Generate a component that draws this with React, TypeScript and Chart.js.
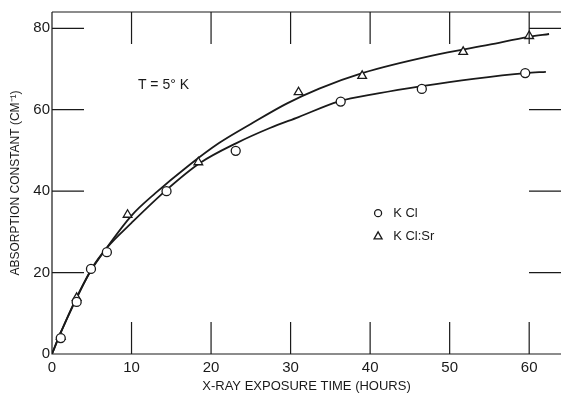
import React, { useEffect, useRef } from "react";
import { Chart, registerables } from "chart.js";

Chart.register(...registerables);

// Measured points
const kclX = [1.1, 3.1, 4.9, 6.9, 14.4, 23.1, 36.3, 46.5, 59.5];
const kclY = [3.9, 12.8, 20.9, 25.0, 40.0, 49.9, 62.0, 65.1, 69.0];
const kclSrX = [1.1, 3.1, 9.5, 18.4, 31.0, 39.0, 51.7, 60.0];
const kclSrY = [4.2, 13.8, 34.2, 47.1, 64.3, 68.3, 74.2, 78.1];

// Hand-drawn smooth curves
const kclFitX = [0, 1, 3, 5, 7, 10, 14.4, 18.6, 23.2, 27.4, 31, 36, 41, 46.5, 53, 59.6, 62.1];
const kclFitY = [0, 4.8, 13.3, 21, 26.3, 32.2, 40.3, 46.9, 51.8, 55.5, 58.2, 62, 64, 65.8, 67.6, 69, 69.3];
const kclSrFitX = [0, 1, 3, 5, 7, 10, 13, 17, 21, 25, 29.5, 33.6, 39, 47.8, 55, 60, 62.5];
const kclSrFitY = [0, 4.8, 13.5, 20.8, 26.4, 34, 39.5, 46, 51.8, 56.5, 61.5, 65.2, 69, 73.3, 76, 77.9, 78.6];

const xTicks = [0, 10, 20, 30, 40, 50, 60];
const yTicks = [0, 20, 40, 60, 80];

const seriesLabels = ["K Cl", "K Cl:Sr"];
const xTitle = "X-RAY EXPOSURE TIME (HOURS)";
const yTitle = "ABSORPTION CONSTANT (CM\u207B\u00B9)";
const noteText = "T = 5\u00B0 K";

const FONT = "'Liberation Sans', Arial, Helvetica, sans-serif";
const INK = "#1a1a1a";
const TICK = 32;

const toPts = (xs: number[], ys: number[]) => xs.map((x, i) => ({ x, y: ys[i] }));

const framePlugin = {
  id: "frameTicks",
  afterDraw(chart: any) {
    const { ctx, chartArea: a, scales } = chart;
    const x = scales.x;
    const y = scales.y;
    ctx.save();
    ctx.strokeStyle = INK;
    ctx.lineWidth = 1.2;
    ctx.beginPath();
    ctx.moveTo(a.left, a.top);
    ctx.lineTo(a.right, a.top);
    ctx.moveTo(a.left, a.top);
    ctx.lineTo(a.left, a.bottom);
    ctx.lineTo(a.right, a.bottom);
    for (const v of xTicks) {
      if (v === 0) continue;
      const px = x.getPixelForValue(v);
      ctx.moveTo(px, a.bottom);
      ctx.lineTo(px, a.bottom - TICK);
      ctx.moveTo(px, a.top);
      ctx.lineTo(px, a.top + TICK);
    }
    for (const v of yTicks) {
      if (v === 0) continue;
      const py = y.getPixelForValue(v);
      ctx.moveTo(a.left, py);
      ctx.lineTo(a.left + TICK, py);
      ctx.moveTo(a.right, py);
      ctx.lineTo(a.right - TICK, py);
    }
    ctx.stroke();

    // note text
    ctx.fillStyle = INK;
    ctx.font = `14px ${FONT}`;
    ctx.textBaseline = "middle";
    ctx.textAlign = "left";
    ctx.fillText(noteText, x.getPixelForValue(10.8), y.getPixelForValue(66.1));

    // legend
    const mx = x.getPixelForValue(41.0);
    const tx = x.getPixelForValue(42.9);
    const y1 = y.getPixelForValue(34.6);
    const y2 = y.getPixelForValue(29.0);
    ctx.lineWidth = 1.3;
    ctx.beginPath();
    ctx.arc(mx, y1, 3.5, 0, Math.PI * 2);
    ctx.stroke();
    ctx.beginPath();
    ctx.moveTo(mx, y2 - 4);
    ctx.lineTo(mx + 4, y2 + 3);
    ctx.lineTo(mx - 4, y2 + 3);
    ctx.closePath();
    ctx.stroke();
    ctx.font = `13px ${FONT}`;
    ctx.fillText(seriesLabels[0], tx, y1);
    ctx.fillText(seriesLabels[1], tx, y2);
    ctx.restore();
  },
};

export default function App() {
  const ref = useRef<HTMLCanvasElement>(null);
  useEffect(() => {
    document.body.style.margin = "0";
    const canvas = ref.current;
    if (!canvas) return;
    const chart = new Chart(canvas, {
      type: "scatter",
      data: {
        datasets: [
          {
            label: seriesLabels[0],
            data: toPts(kclX, kclY),
            pointStyle: "circle",
            pointRadius: 4.5,
            backgroundColor: "#ffffff",
            borderColor: INK,
            borderWidth: 1.3,
            order: 0,
          },
          {
            label: seriesLabels[1],
            data: toPts(kclSrX, kclSrY),
            pointStyle: "triangle",
            pointRadius: 5,
            backgroundColor: "#ffffff",
            borderColor: INK,
            borderWidth: 1.3,
            order: 0,
          },
          {
            label: seriesLabels[0] + " fit",
            data: toPts(kclFitX, kclFitY),
            showLine: true,
            pointRadius: 0,
            borderColor: INK,
            borderWidth: 1.8,
            cubicInterpolationMode: "monotone",
            order: 1,
          },
          {
            label: seriesLabels[1] + " fit",
            data: toPts(kclSrFitX, kclSrFitY),
            showLine: true,
            pointRadius: 0,
            borderColor: INK,
            borderWidth: 1.8,
            cubicInterpolationMode: "monotone",
            order: 1,
          },
        ],
      },
      options: {
        responsive: false,
        animation: false,
        layout: { autoPadding: false, padding: { top: 12, right: 0, left: 0, bottom: 0 } },
        plugins: { legend: { display: false }, tooltip: { enabled: false } },
        scales: {
          x: {
            type: "linear",
            min: 0,
            max: 64,
            grid: { display: false, drawTicks: false },
            border: { display: false },
            afterBuildTicks: (s: any) => {
              s.ticks = xTicks.map((v) => ({ value: v }));
            },
            afterFit: (s: any) => {
              s.height = 40;
              s.paddingLeft = 0;
              s.paddingRight = 0;
            },
            ticks: { color: INK, font: { family: FONT, size: 15 }, padding: 5 },
            title: {
              display: true,
              text: xTitle,
              color: INK,
              font: { family: FONT, size: 13 },
              padding: { top: 0, bottom: 0 },
            },
          },
          y: {
            type: "linear",
            min: 0,
            max: 84,
            grid: { display: false, drawTicks: false },
            border: { display: false },
            afterBuildTicks: (s: any) => {
              s.ticks = yTicks.map((v) => ({ value: v }));
            },
            afterFit: (s: any) => {
              s.width = 52;
              s.paddingTop = 0;
              s.paddingBottom = 0;
            },
            ticks: { color: INK, font: { family: FONT, size: 15 }, padding: 2 },
            title: {
              display: true,
              text: yTitle,
              color: INK,
              font: { family: FONT, size: 12 },
              padding: { top: 8, bottom: 0 },
            },
          },
        },
      },
      plugins: [framePlugin],
    } as any);
    return () => chart.destroy();
  }, []);
  return (
    <div style={{ position: "absolute", left: 0, top: 0, width: 561, height: 394, background: "#fff" }}>
      <canvas ref={ref} width={561} height={394} />
    </div>
  );
}
